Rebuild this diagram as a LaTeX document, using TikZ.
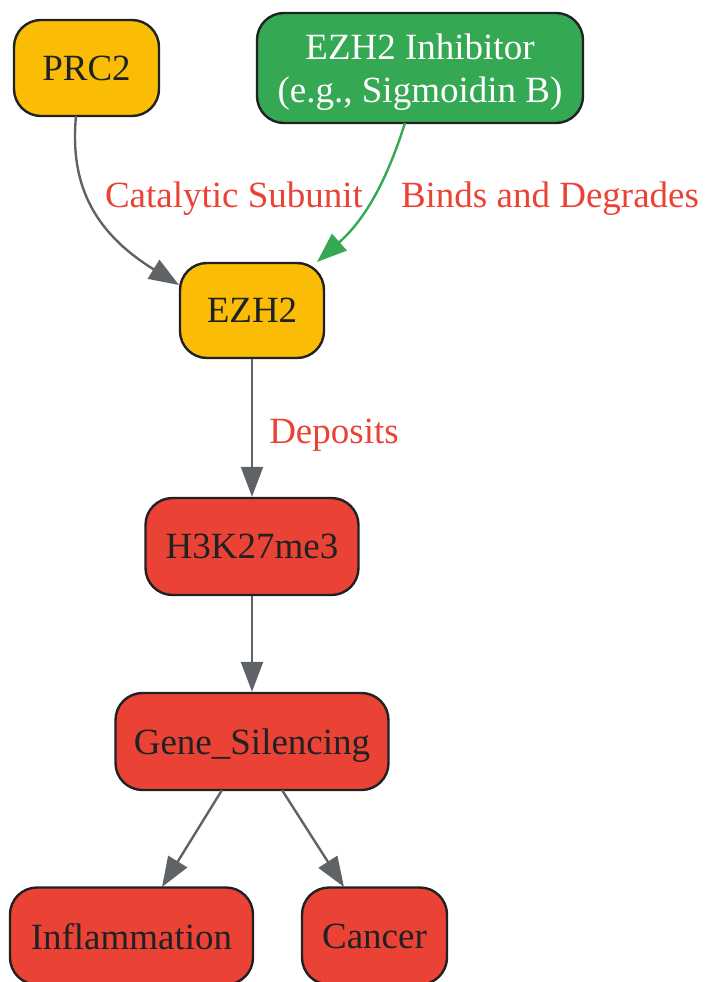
\documentclass[tikz,border=0pt]{standalone}
\usepackage{fontspec}
\setmainfont{Liberation Serif}
\usetikzlibrary{arrows.meta}
\definecolor{gyellow}{HTML}{FBBC05}
\definecolor{ggreen}{HTML}{34A853}
\definecolor{gred}{HTML}{EA4335}
\definecolor{ggray}{HTML}{5F6368}
\definecolor{gdark}{HTML}{202124}
\tikzset{
  box/.style={draw=gdark, line width=2.4pt, rounded corners=27pt, inner sep=0pt,
    font=\fontsize{37}{43}\selectfont, text=gdark, align=center, text depth=0pt},
  ybox/.style={box, fill=gyellow},
  rbox/.style={box, fill=gred},
  gbox/.style={box, fill=ggreen, text=white},
  conn/.style={draw=ggray, line width=2.4pt, -{Triangle[length=30pt,width=22pt]}},
  gconn/.style={conn, draw=ggreen, -{Triangle[length=30pt,width=22pt,fill=ggreen]}},
  lbl/.style={font=\fontsize{37}{43}\selectfont, text=gred, inner sep=0pt, text depth=0pt}
}
\begin{document}
\begin{tikzpicture}[x=1pt,y=-1pt]
\useasboundingbox (0,0) rectangle (704,982);
\node[ybox, minimum width=145pt, minimum height=96pt] (prc2) at (86.5,68) {PRC2};
\node[gbox, minimum width=326pt, minimum height=110pt] (inh) at (420,68) {EZH2 Inhibitor\\(e.g., Sigmoidin B)};
\node[ybox, minimum width=144pt, minimum height=95pt] (ezh2) at (252,310.5) {EZH2};
\node[rbox, minimum width=213pt, minimum height=97pt] (h3k) at (252,546.5) {H3K27me3};
\node[rbox, minimum width=273pt, minimum height=97pt] (gene) at (252,741.5) {Gene\_Silencing};
\node[rbox, minimum width=243pt, minimum height=97pt] (infl) at (131.5,936) {Inflammation};
\node[rbox, minimum width=145pt, minimum height=97pt] (canc) at (374.5,936) {Cancer};
\coordinate (prcS) at (76,116);
\coordinate (ezhL) at (179,285);
\coordinate (inhS) at (405,123);
\coordinate (ezhR) at (317,262);
\draw[conn] (prcS) .. controls (70,180) and (90,230) .. (ezhL);
\draw[gconn] (inhS) .. controls (390,170) and (370,215) .. (ezhR);
\draw[conn] (ezh2.south) -- (h3k.north);
\draw[conn] (h3k.south) -- (gene.north);
\coordinate (gL) at (222,790);
\coordinate (gR) at (282,790);
\coordinate (iT) at (162,887);
\coordinate (cT) at (344,887);
\draw[conn] (gL) -- (iT);
\draw[conn] (gR) -- (cT);
\node[lbl] (l1) at (234,195) {Catalytic Subunit};
\node[lbl] (l2) at (550,195) {Binds and Degrades};
\node[lbl] (l3) at (334,431) {Deposits};
\end{tikzpicture}
\end{document}
